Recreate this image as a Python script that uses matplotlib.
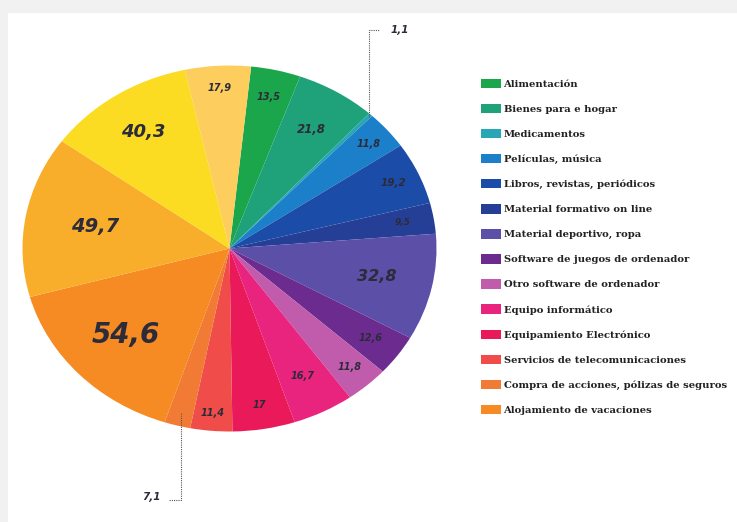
import matplotlib
matplotlib.use("Agg")
import matplotlib.pyplot as plt
from matplotlib.patches import Patch, Rectangle
import numpy as np

# ---------------- data ----------------
categories = [
    "Alimentación", "Bienes para e hogar", "Medicamentos", "Películas, música",
    "Libros, revistas, periódicos", "Material formativo on line",
    "Material deportivo, ropa", "Software de juegos de ordenador",
    "Otro software de ordenador", "Equipo informático",
    "Equipamiento Electrónico", "Servicios de telecomunicaciones",
    "Compra de acciones, pólizas de seguros", "Alojamiento de vacaciones",
    "", "", "",
]
values = [13.5, 21.8, 1.1, 11.8, 19.2, 9.5, 32.8, 12.6, 11.8, 16.7, 17.0,
          11.4, 7.1, 54.6, 49.7, 40.3, 17.9]
value_labels = ["13,5", "21,8", "1,1", "11,8", "19,2", "9,5", "32,8", "12,6",
                "11,8", "16,7", "17", "11,4", "7,1", "54,6", "49,7", "40,3",
                "17,9"]
legend_count = 14

# ---------------- styles ----------------
colors = ["#1ba64c", "#1fa27a", "#27a6b4", "#1b80c9", "#1b4ca8", "#263f96",
          "#5b4fa7", "#6b2b8f", "#c15bac", "#e9247f", "#e9195a", "#ef4c4a",
          "#f17b34", "#f58b22", "#f9ae2b", "#fbdc22", "#fdcd5e"]
label_r = [0.85, 0.76, None, 0.88, 0.87, 0.85, 0.73, 0.84, 0.87, 0.78, 0.865,
           0.90, None, 0.69, 0.66, 0.76, 0.88]
label_fs = [7, 8.5, 7.5, 7, 7.5, 6.5, 11.5, 7, 7, 7, 7, 7, 7.5, 20, 14, 13, 7]
text_color = "#2b2b3a"

W, H = 737, 522
fig = plt.figure(figsize=(W / 100, H / 100), dpi=100)
fig.patch.set_facecolor("#f1f1f1")
# white card
fig.add_artist(Rectangle((8 / W, 0), 1, (H - 13) / H, transform=fig.transFigure,
                         facecolor="white", edgecolor="none", zorder=0))

# pie axes (elliptical pie)
cx, cy, rx, ry = 229.5, 248.5, 207, 183
ax = fig.add_axes([(cx - rx) / W, (H - cy - ry) / H, 2 * rx / W, 2 * ry / H])
wedges, _ = ax.pie(values, colors=colors, startangle=84, counterclock=False,
                   radius=1, wedgeprops=dict(linewidth=0, edgecolor="none"))
ax.set_aspect("auto")
ax.set_xlim(-1, 1)
ax.set_ylim(-1, 1)
ax.axis("off")

for w, lab, r, fs in zip(wedges, value_labels, label_r, label_fs):
    mid = np.deg2rad((w.theta1 + w.theta2) / 2)
    if r is not None:
        ax.text(r * np.cos(mid), r * np.sin(mid), lab, ha="center", va="center",
                fontsize=fs, fontweight="bold", fontstyle="italic",
                color=text_color)

# leader lines for small slices
lead_kw = dict(color="#555555", lw=0.8, ls=(0, (1, 1)), clip_on=False)
# 1,1
w = wedges[2]
mid = np.deg2rad((w.theta1 + w.theta2) / 2)
x0, y0 = 0.985 * np.cos(mid), 0.985 * np.sin(mid)
ytop = (cy - 30) / ry
ax.plot([x0, x0, x0 + 10 / rx], [y0, ytop, ytop], **lead_kw)
ax.text(x0 + 22 / rx, ytop, value_labels[2], ha="left", va="center",
        fontsize=label_fs[2], fontweight="bold", fontstyle="italic",
        color=text_color, clip_on=False)
# 7,1
w = wedges[12]
mid = np.deg2rad((w.theta1 + w.theta2) / 2)
x0, y0 = 0.93 * np.cos(mid), 0.93 * np.sin(mid)
ybot = (cy - 500) / ry
ax.plot([x0, x0, x0 - 13 / rx], [y0, ybot, ybot], **lead_kw)
ax.text(x0 - 20 / rx, ybot + 3 / ry, value_labels[12], ha="right", va="center",
        fontsize=label_fs[12], fontweight="bold", fontstyle="italic",
        color=text_color, clip_on=False)

# legend
handles = [Patch(facecolor=c, edgecolor="none")
           for c in colors[:legend_count]]
fig.legend(handles, categories[:legend_count], loc="upper left",
           bbox_to_anchor=(481 / W, (H - 79) / H), frameon=False,
           prop=dict(family="DejaVu Serif", weight="bold", size=7.2),
           labelcolor="#222222", handlelength=2.0, handleheight=1.05,
           handletextpad=0.25, labelspacing=1.5, borderpad=0,
           borderaxespad=0)

fig.savefig("out.png", dpi=100)
